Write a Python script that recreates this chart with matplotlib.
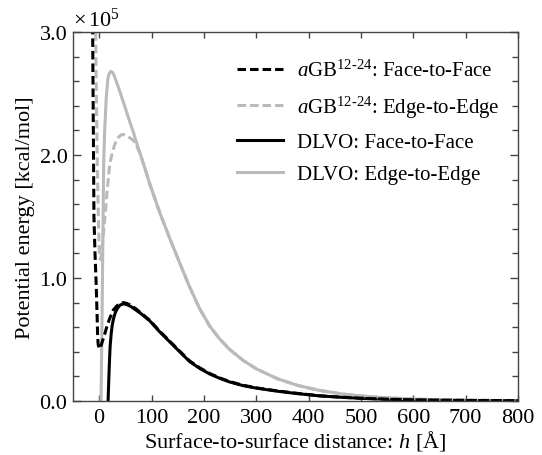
import numpy as np
import matplotlib.pyplot as plt

plt.rcParams['font.family'] = ['Liberation Serif', 'DejaVu Serif']
plt.rcParams['mathtext.fontset'] = 'custom'
plt.rcParams['mathtext.rm'] = 'Liberation Serif'
plt.rcParams['mathtext.it'] = 'Liberation Serif:italic'
plt.rcParams['font.size'] = 16

# Potential energy in units of 1e5 kcal/mol, h in Angstrom
tail_h = [80, 97, 115, 135, 155, 173, 192, 211, 230, 249, 275, 300, 340,
          379, 420, 463, 500, 550, 600, 650, 700, 750, 800]
ee_tail_v = [1.99, 1.76, 1.54, 1.32, 1.11, 0.925, 0.75, 0.61, 0.505, 0.42,
             0.33, 0.262, 0.182, 0.127, 0.087, 0.058, 0.041, 0.026, 0.016,
             0.01, 0.006, 0.004, 0.0025]

# DLVO: Edge-to-Edge
dlvo_ee_h = [3.5, 5, 6.3, 7.5, 8.5, 10.4, 13.4, 16.6, 19, 22, 26, 30, 35, 40,
             45, 50, 55, 60, 65, 72] + tail_h
dlvo_ee_v = [0.0, 0.5, 1.0, 1.5, 1.92, 2.19, 2.46, 2.62, 2.66, 2.68, 2.67, 2.63,
             2.57, 2.51, 2.445, 2.38, 2.315, 2.25, 2.19, 2.09] + ee_tail_v

# aGB12-24: Edge-to-Edge
agb_ee_h = [-7, -6, -5, -4, -3, -2, -1, 0, 1, 2.5, 4, 6, 8, 11, 15, 20, 25, 30,
            36, 42, 48, 55, 65, 72] + tail_h
agb_ee_v = [3.1, 2.7, 2.35, 2.05, 1.8, 1.58, 1.4, 1.25, 1.17, 1.15, 1.18, 1.26,
            1.36, 1.5, 1.7, 1.92, 2.02, 2.09, 2.14, 2.165, 2.165, 2.15, 2.12,
            2.07] + ee_tail_v

# DLVO: Face-to-Face
dlvo_ff_h = [17, 18, 19, 20, 21, 23, 25, 28, 31, 35, 40, 46, 52, 60, 70] + tail_h
dlvo_ff_v = [0.0, 0.13, 0.25, 0.36, 0.45, 0.55, 0.62, 0.68, 0.72, 0.755, 0.78,
             0.79, 0.785, 0.77, 0.74,
             0.71, 0.65, 0.565, 0.48, 0.395, 0.32, 0.265, 0.22, 0.185, 0.155,
             0.125, 0.105, 0.08, 0.06, 0.042, 0.03, 0.022, 0.014, 0.009, 0.006,
             0.004, 0.003, 0.002]

# aGB12-24: Face-to-Face
agb_ff_h = [-12.5, -12, -11, -10, -8, -6, -4, -3, -2, 0, 1, 3, 5, 8, 11, 15,
            20, 27, 33, 40, 46, 52, 60, 70] + tail_h
agb_ff_v = [3.05, 2.7, 2.1, 1.5, 1.2, 0.98, 0.7, 0.54, 0.46, 0.43, 0.425, 0.44,
            0.47, 0.51, 0.55, 0.61, 0.67, 0.74, 0.77, 0.795, 0.80, 0.795, 0.78,
            0.75,
            0.715, 0.655, 0.57, 0.485, 0.40, 0.325, 0.27, 0.224, 0.188, 0.158,
            0.128, 0.107, 0.082, 0.062, 0.043, 0.031, 0.023, 0.015, 0.01,
            0.007, 0.005, 0.004, 0.003]

gray = '#b9bbb8'
dash = (2.8, 1.3)

fig = plt.figure(figsize=(5.42, 4.56), dpi=100)
ax = fig.add_axes([0.1347, 0.1184, 0.821, 0.8092])

l4, = ax.plot(dlvo_ee_h, dlvo_ee_v, color=gray, lw=2.2,
              label='DLVO: Edge-to-Edge')
l3, = ax.plot(dlvo_ff_h, dlvo_ff_v, color='black', lw=2.2,
              label='DLVO: Face-to-Face')
l2, = ax.plot(agb_ee_h, agb_ee_v, color=gray, lw=2.2, dashes=dash,
              label=r'$\mathit{a}$GB$^{\mathrm{12‐24}}$: Edge-to-Edge')
l1, = ax.plot(agb_ff_h, agb_ff_v, color='black', lw=2.2, dashes=dash,
              label=r'$\mathit{a}$GB$^{\mathrm{12‐24}}$: Face-to-Face')

ax.set_xlim(-50, 800)
ax.set_ylim(0, 3.0)
ax.set_xticks(np.arange(0, 801, 100))
ax.set_yticks([0, 1, 2, 3])
ax.set_yticklabels(['0.0', '1.0', '2.0', '3.0'])
ax.set_yticks(np.arange(0, 3.01, 0.2), minor=True)
ax.tick_params(axis='both', which='both', direction='in', top=True,
               right=True, color='#444444', width=1, labelsize=16)
ax.tick_params(axis='x', which='major', length=4, pad=5)
ax.tick_params(axis='y', which='major', length=6, pad=4)
ax.tick_params(axis='y', which='minor', length=4.5)
for s in ax.spines.values():
    s.set_color('#444444')
    s.set_linewidth(1)

ax.set_xlabel(r'Surface-to-surface distance: $\mathit{h}$ [Å]', labelpad=1,
              fontsize=16)
ax.set_ylabel('Potential energy [kcal/mol]', labelpad=3, fontsize=16)
ax.text(0.0, 1.003, r'$\times\,10^{5}$', transform=ax.transAxes,
        ha='left', va='bottom', fontsize=16)

ax.legend(handles=[l1, l2, l3, l4], loc='upper right', frameon=False,
          bbox_to_anchor=(1.0, 0.975), handlelength=2.2, handletextpad=0.65,
          labelspacing=0.6, fontsize=15)

fig.savefig('out.png', dpi=100)
